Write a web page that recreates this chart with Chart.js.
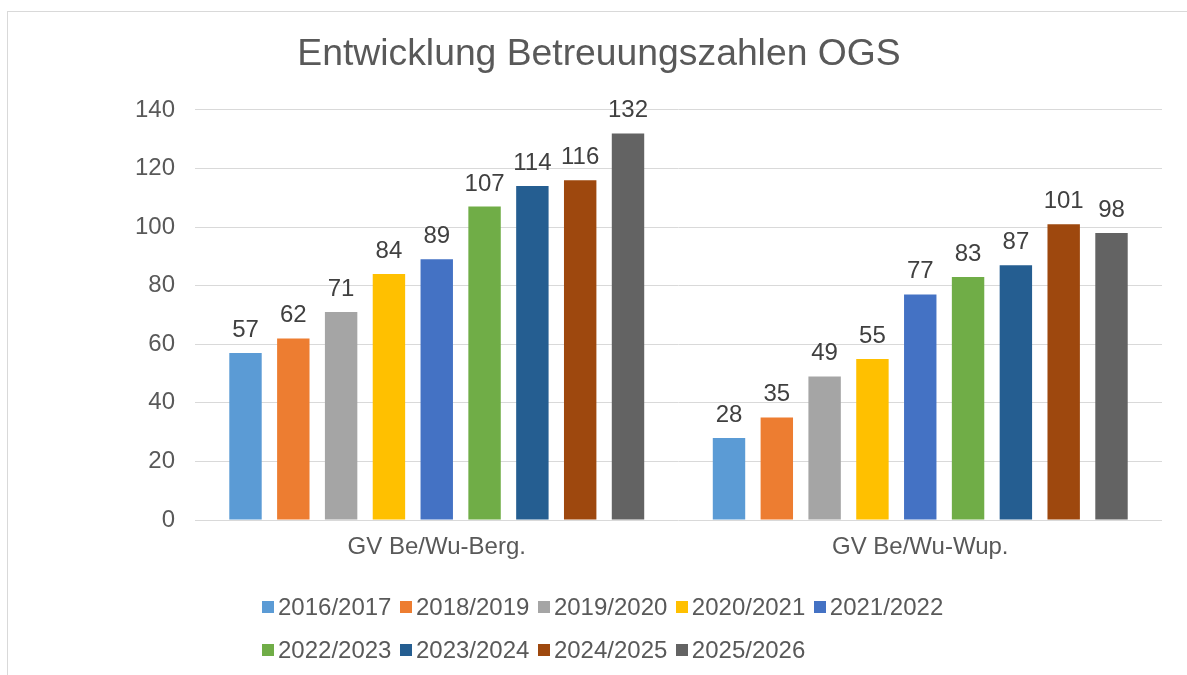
<!DOCTYPE html>
<html>
<head>
<meta charset="utf-8">
<script src="https://cdn.jsdelivr.net/npm/chart.js@4/dist/chart.umd.min.js"></script>
<style>
  html, body { margin: 0; padding: 0; background: #ffffff; }
  #wrap { position: relative; width: 1187px; height: 675px; overflow: hidden; }
  #frame { position: absolute; left: 7px; top: 11px; width: 1300px; height: 800px;
           border-top: 1px solid #d9d9d9; border-left: 1px solid #d9d9d9; pointer-events: none; }
  #chart { position: absolute; left: 0; top: 0; }
  #legend { position: absolute; left: 262px; top: 585px; width: 710px; display: flex; flex-wrap: wrap;
            font-family: "Liberation Sans", Arial, sans-serif; font-size: 24px; color: #595959; }
  .item { display: flex; align-items: center; height: 43px; margin-right: 8.5px; white-space: nowrap; }
  .box { width: 12px; height: 12px; margin-right: 4px; }
</style>
</head>
<body>
<div id="wrap">
  <div id="frame"></div>
  <canvas id="chart" width="1187" height="675"></canvas>
  <div id="legend"></div>
</div>
<script>
const categories = ["GV Be/Wu-Berg.", "GV Be/Wu-Wup."];
const seriesLabels = ["2016/2017", "2018/2019", "2019/2020", "2020/2021", "2021/2022",
                      "2022/2023", "2023/2024", "2024/2025", "2025/2026"];
const valuesBerg = [57, 62, 71, 84, 89, 107, 114, 116, 132];
const valuesWup  = [28, 35, 49, 55, 77, 83, 87, 101, 98];
const yTicks = [0, 20, 40, 60, 80, 100, 120, 140];
const seriesColors = ["#5B9BD5", "#ED7D31", "#A5A5A5", "#FFC000", "#4472C4",
                      "#70AD47", "#255E91", "#9E480E", "#636363"];

const FONT = "'Liberation Sans', Arial, sans-serif";

const datasets = seriesLabels.map((lab, i) => ({
  label: lab,
  data: [valuesBerg[i], valuesWup[i]],
  backgroundColor: seriesColors[i],
  borderWidth: 0,
  categoryPercentage: 0.89,
  barPercentage: 0.678
}));

const valueLabels = {
  id: 'valueLabels',
  afterDatasetsDraw(chart) {
    const ctx = chart.ctx;
    ctx.save();
    ctx.font = "24px " + FONT;
    ctx.fillStyle = "#404040";
    ctx.textAlign = "center";
    ctx.textBaseline = "alphabetic";
    chart.data.datasets.forEach((ds, di) => {
      const meta = chart.getDatasetMeta(di);
      meta.data.forEach((bar, j) => {
        ctx.fillText(String(ds.data[j]), bar.x, bar.y - 16);
      });
    });
    ctx.restore();
  }
};

new Chart(document.getElementById('chart'), {
  type: 'bar',
  data: { labels: categories, datasets },
  options: {
    responsive: false,
    animation: false,
    layout: { padding: { left: 36, right: 25, top: 0, bottom: 0 } },
    plugins: {
      legend: { display: false },
      tooltip: { enabled: false },
      title: {
        display: true,
        text: "Entwicklung Betreuungszahlen OGS",
        color: "#595959",
        font: { family: FONT, size: 37.3, weight: 'normal', lineHeight: 1.2 },
        padding: { top: 32, bottom: 33.2 }
      }
    },
    scales: {
      x: {
        grid: { display: false, drawTicks: false },
        border: { display: false },
        ticks: { color: "#595959", font: { family: FONT, size: 24, lineHeight: 1.2 }, padding: 13 },
        afterFit(scale) { scale.height = 155; }
      },
      y: {
        min: yTicks[0],
        max: yTicks[yTicks.length - 1],
        afterBuildTicks(scale) { scale.ticks = yTicks.map(v => ({ value: v })); },
        grid: { color: "#d9d9d9", lineWidth: 1, drawTicks: false },
        border: { display: false },
        ticks: { color: "#595959", font: { family: FONT, size: 24 }, padding: 20 },
        afterFit(scale) { scale.width = 159; }
      }
    }
  },
  plugins: [valueLabels]
});

const legendEl = document.getElementById('legend');
seriesLabels.forEach((lab, i) => {
  const item = document.createElement('div');
  item.className = 'item';
  const box = document.createElement('span');
  box.className = 'box';
  box.style.background = seriesColors[i];
  const txt = document.createElement('span');
  txt.textContent = lab;
  item.appendChild(box);
  item.appendChild(txt);
  legendEl.appendChild(item);
});
</script>
</body>
</html>
